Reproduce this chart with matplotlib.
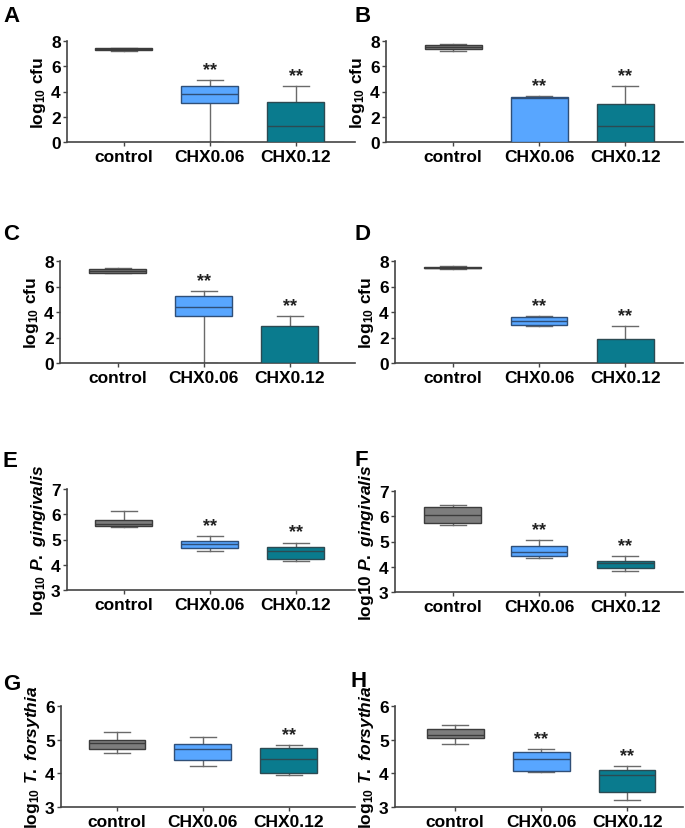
import numpy as np
import matplotlib
matplotlib.use("Agg")
import matplotlib.pyplot as plt

plt.rcParams['font.family'] = ['Liberation Sans', 'DejaVu Sans']
plt.rcParams['font.weight'] = 'bold'
plt.rcParams['mathtext.fontset'] = 'custom'
plt.rcParams['mathtext.rm'] = 'Liberation Sans:bold'
plt.rcParams['mathtext.it'] = 'Liberation Sans:italic:bold'
plt.rcParams['mathtext.bf'] = 'Liberation Sans:bold'

W, H = 685, 829

groups = ["control", "CHX0.06", "CHX0.12"]
colors = ["#7d7d7d", "#58a6ff", "#0a7b8e"]
edges = ["#3c3c3c", "#2f4f78", "#2c4a52"]

# box stats per panel: (whisker low, q1, median, q3, whisker high)
stats_A = [(7.20, 7.25, 7.33, 7.42, 7.47), (0.0, 3.06, 3.78, 4.41, 4.89), (0.0, 0.0, 1.30, 3.14, 4.41)]
stats_B = [(7.20, 7.39, 7.52, 7.66, 7.74), (0.0, 0.0, 3.52, 3.54, 3.62), (0.0, 0.0, 1.30, 3.00, 4.41)]
stats_C = [(7.05, 7.08, 7.24, 7.40, 7.45), (0.0, 3.71, 4.37, 5.29, 5.63), (0.0, 0.0, 0.0, 2.92, 3.66)]
stats_D = [(7.40, 7.45, 7.47, 7.55, 7.58), (2.87, 2.97, 3.29, 3.58, 3.71), (0.0, 0.0, 0.0, 1.92, 2.87)]
stats_E = [(5.48, 5.52, 5.62, 5.77, 6.11), (4.54, 4.68, 4.83, 4.96, 5.15), (4.14, 4.22, 4.55, 4.71, 4.88)]
stats_F = [(5.64, 5.72, 6.05, 6.38, 6.45), (4.34, 4.41, 4.58, 4.81, 5.06), (3.82, 3.95, 4.16, 4.24, 4.43)]
stats_G = [(4.59, 4.71, 4.90, 4.99, 5.22), (4.22, 4.41, 4.71, 4.88, 5.08), (3.94, 4.01, 4.44, 4.76, 4.83)]
stats_H = [(4.88, 5.05, 5.14, 5.31, 5.45), (4.04, 4.08, 4.43, 4.63, 4.72), (3.21, 3.45, 3.96, 4.10, 4.21)]

stars_A = ["", "**", "**"]
stars_B = ["", "**", "**"]
stars_C = ["", "**", "**"]
stars_D = ["", "**", "**"]
stars_E = ["", "**", "**"]
stars_F = ["", "**", "**"]
stars_G = ["", "", "**"]
stars_H = ["", "**", "**"]

ylabel_cfu = r"log$_{\mathregular{10}}$ cfu"
ylabel_pg = r"log$_{\mathregular{10}}$ $\it{P.\ gingivalis}$"
ylabel_pg2 = r"log10 $\it{P.\ gingivalis}$"
ylabel_tf = r"log$_{\mathregular{10}}$ $\it{T.\ forsythia}$"

# letter, stats, stars, ylabel, ylim, yticks, axes box in px (left, right, top, bottom), xlim, letter pos (px)
panels = [
    ("A", stats_A, stars_A, ylabel_cfu, (0, 8), [0, 2, 4, 6, 8], (67, 355, 42, 143), (-0.66, 2.69), (3, 22)),
    ("B", stats_B, stars_B, ylabel_cfu, (0, 8), [0, 2, 4, 6, 8], (386, 683, 42, 143), (-0.78, 2.67), (354, 22)),
    ("C", stats_C, stars_C, ylabel_cfu, (0, 8), [0, 2, 4, 6, 8], (60, 355, 262, 364), (-0.67, 2.76), (3, 240)),
    ("D", stats_D, stars_D, ylabel_cfu, (0, 8), [0, 2, 4, 6, 8], (395, 683, 262, 364), (-0.67, 2.67), (354, 240)),
    ("E", stats_E, stars_E, ylabel_pg, (3, 7), [3, 4, 5, 6, 7], (67, 355, 490, 591), (-0.66, 2.69), (3, 467)),
    ("F", stats_F, stars_F, ylabel_pg2, (3, 7), [3, 4, 5, 6, 7], (395, 683, 492, 593), (-0.67, 2.67), (355, 466)),
    ("G", stats_G, stars_G, ylabel_tf, (3, 6), [3, 4, 5, 6], (61, 355, 707, 808), (-0.65, 2.77), (3, 690)),
    ("H", stats_H, stars_H, ylabel_tf, (3, 6), [3, 4, 5, 6], (395, 683, 707, 808), (-0.70, 2.65), (351, 687)),
]

fig = plt.figure(figsize=(W / 100, H / 100), dpi=100)

for letter, stats, stars, ylabel, ylim, yticks, box, xlim, lpos in panels:
    l, r, t, b = box
    ax = fig.add_axes([l / W, 1 - b / H, (r - l) / W, (b - t) / H])
    bxp = []
    for s in stats:
        bxp.append({"whislo": s[0], "q1": s[1], "med": s[2], "q3": s[3], "whishi": s[4]})
    res = ax.bxp(bxp, positions=[0, 1, 2], widths=0.66, patch_artist=True,
                 showfliers=False, manage_ticks=False,
                 whiskerprops=dict(color="#6a6a6a", lw=1.0),
                 capprops=dict(color="#6a6a6a", lw=1.0),
                 medianprops=dict(lw=1.0))
    for i, patch in enumerate(res["boxes"]):
        patch.set_facecolor(colors[i])
        patch.set_edgecolor(edges[i])
        patch.set_linewidth(1.0)
        patch.set_zorder(3)
        res["medians"][i].set_color(edges[i])
        res["medians"][i].set_zorder(4)
    for cap in res["caps"]:
        x0, x1 = cap.get_xdata()
        c = (x0 + x1) / 2
        cap.set_xdata([c - 0.15, c + 0.15])
    span = ylim[1] - ylim[0]
    for i, st in enumerate(stars):
        if st:
            ax.text(i, stats[i][4] + 0.02 * span, st, ha="center", va="bottom",
                    fontsize=13, fontweight="bold", color="#222222")
    ax.set_xlim(*xlim)
    ax.set_ylim(*ylim)
    ax.set_yticks(yticks)
    ax.set_xticks([0, 1, 2])
    ax.set_xticklabels(groups)
    ax.spines["top"].set_visible(False)
    ax.spines["right"].set_visible(False)
    for sp in ("left", "bottom"):
        ax.spines[sp].set_color("#444444")
        ax.spines[sp].set_linewidth(1.2)
    ax.tick_params(axis="both", labelsize=12.5, color="#444444", width=1.0, length=3, pad=1.5)
    ax.tick_params(axis="x", pad=2)
    for lab in ax.get_xticklabels() + ax.get_yticklabels():
        lab.set_fontweight("bold")
    ax.set_ylabel(ylabel, fontsize=12.5, fontweight="bold", labelpad=2)
    fig.text(lpos[0] / W, 1 - lpos[1] / H, letter, fontsize=16, fontweight="bold",
             ha="left", va="baseline")

fig.savefig("out.png", dpi=100)
